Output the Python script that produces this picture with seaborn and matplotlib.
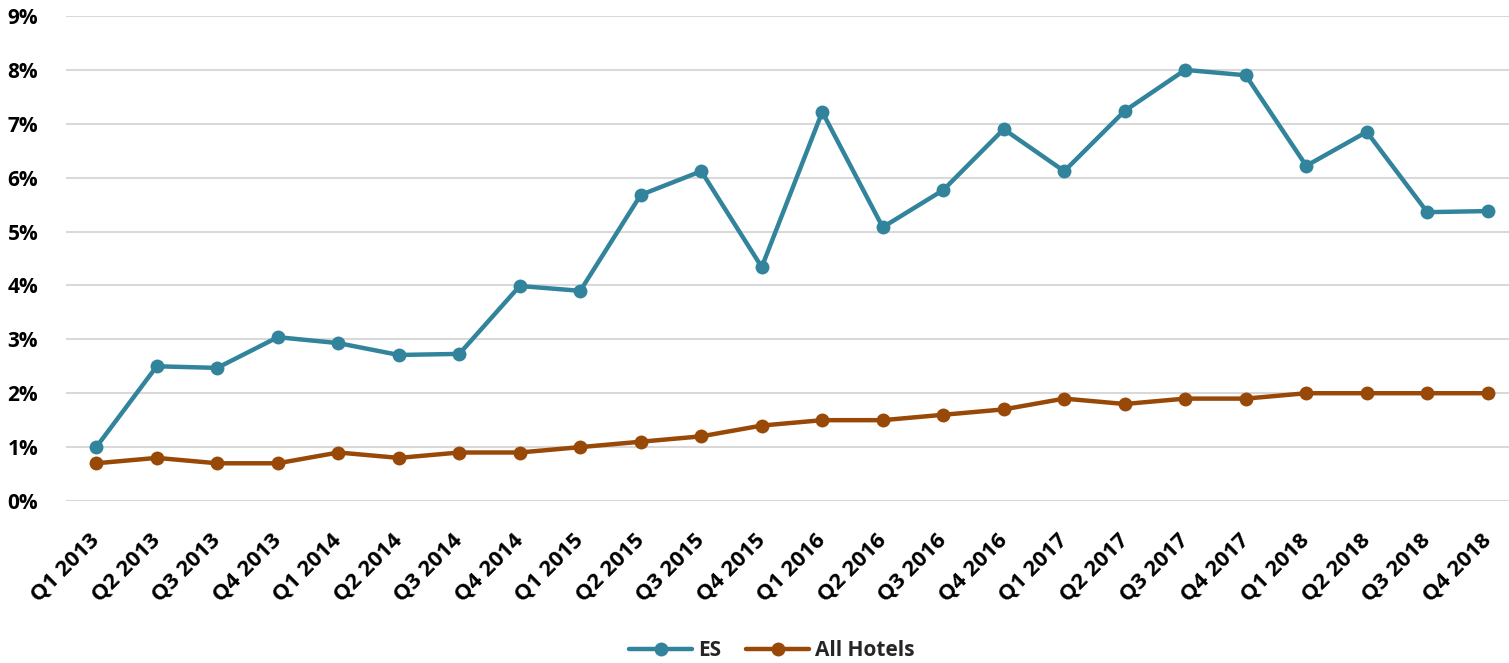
import pandas as pd
import matplotlib.pyplot as plt
import seaborn as sns
from matplotlib.ticker import FuncFormatter

quarters = ["Q1 2013", "Q2 2013", "Q3 2013", "Q4 2013",
            "Q1 2014", "Q2 2014", "Q3 2014", "Q4 2014",
            "Q1 2015", "Q2 2015", "Q3 2015", "Q4 2015",
            "Q1 2016", "Q2 2016", "Q3 2016", "Q4 2016",
            "Q1 2017", "Q2 2017", "Q3 2017", "Q4 2017",
            "Q1 2018", "Q2 2018", "Q3 2018", "Q4 2018"]
es_values = [1.00, 2.50, 2.47, 3.04, 2.93, 2.71, 2.73, 3.99,
             3.90, 5.68, 6.12, 4.34, 7.22, 5.08, 5.77, 6.90,
             6.12, 7.24, 8.00, 7.90, 6.22, 6.85, 5.36, 5.38]
all_hotels_values = [0.7, 0.8, 0.7, 0.7, 0.9, 0.8, 0.9, 0.9,
                     1.0, 1.1, 1.2, 1.4, 1.5, 1.5, 1.6, 1.7,
                     1.9, 1.8, 1.9, 1.9, 2.0, 2.0, 2.0, 2.0]
y_ticks = list(range(0, 10))

colors = {"ES": "#31849B", "All Hotels": "#984807"}

df = pd.concat([
    pd.DataFrame({"Quarter": quarters, "Value": es_values, "Series": "ES"}),
    pd.DataFrame({"Quarter": quarters, "Value": all_hotels_values, "Series": "All Hotels"}),
])

sns.set_style("white")
plt.rcParams["font.family"] = ["Open Sans", "DejaVu Sans"]

fig = plt.figure(figsize=(15.09, 6.63), dpi=100)
ax = fig.add_axes([66 / 1509, 1 - 501 / 663, 1452 / 1509, 485 / 663])

sns.lineplot(data=df, x="Quarter", y="Value", hue="Series", palette=colors,
             marker="o", markersize=10, markeredgewidth=0, linewidth=3.2,
             ax=ax, zorder=3, sort=False)

ax.set_xlim(-0.5, len(quarters) - 0.5)
ax.set_ylim(0, 9)
ax.set_yticks(y_ticks)
ax.yaxis.set_major_formatter(FuncFormatter(lambda v, p: "{:.0f}%".format(v)))
ax.yaxis.grid(True, color="#D9D9D9", linewidth=1.5, zorder=0)
ax.xaxis.grid(False)
ax.set_axisbelow(True)
ax.set_xlabel("")
ax.set_ylabel("")

for spine in ax.spines.values():
    spine.set_visible(False)
ax.tick_params(axis="both", which="both", length=0)
ax.tick_params(axis="y", pad=20)
plt.setp(ax.get_yticklabels(), fontsize=15, fontweight="bold", color="black")
plt.setp(ax.get_xticklabels(), fontsize=16, fontweight="bold", color="black",
         rotation=45, ha="right", va="center", rotation_mode="anchor")
ax.tick_params(axis="x", pad=26)

# Legend at the bottom
handles, labels = ax.get_legend_handles_labels()
ax.get_legend().remove()
legend = fig.legend(handles, labels, loc="center", bbox_to_anchor=(772 / 1509, 1 - 651 / 663),
                    ncol=2, frameon=False, handlelength=3, columnspacing=1.2,
                    handletextpad=0.3, prop={"size": 15, "weight": "bold"})

plt.savefig("out.png", dpi=100)
